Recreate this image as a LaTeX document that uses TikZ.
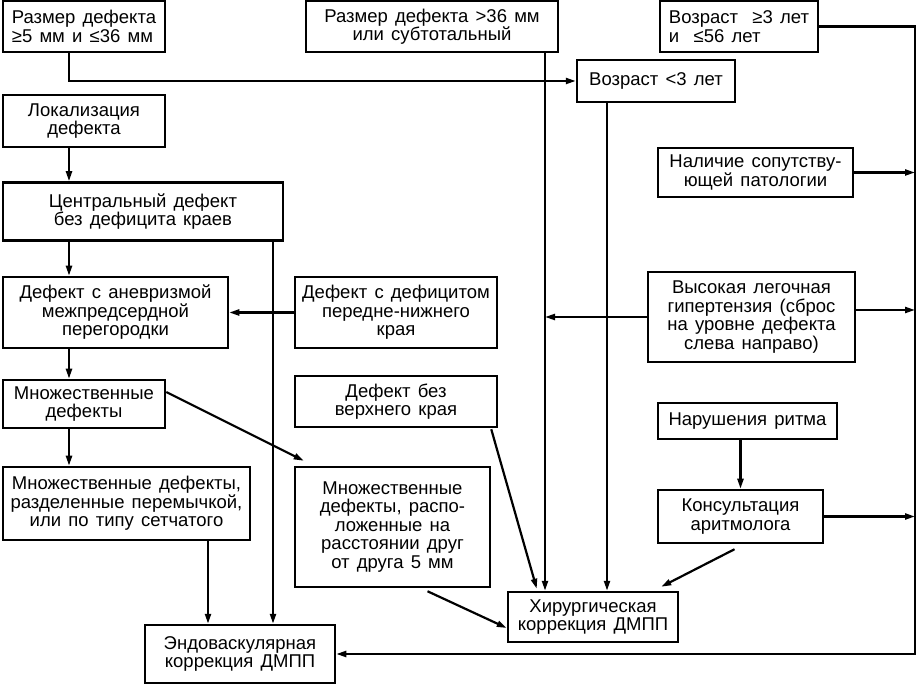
\documentclass[tikz,border=0pt]{standalone}
\usepackage{fontspec}
\setmainfont{Liberation Sans}[WordSpace=1.4]
\usetikzlibrary{arrows.meta}

\begin{document}
\begin{tikzpicture}[
  x=1pt, y=-1pt,
  font=\fontsize{18.5pt}{18.5pt}\selectfont,
  box/.style = {rectangle, draw, line width=2.5pt, align=center, inner sep=2pt},
  sz/.style 2 args = {minimum width=#1pt, minimum height=#2pt},
  arr/.style = {-{Triangle[length=10pt,width=6pt]}, line width=2.2pt}
]
\useasboundingbox (0,0) rectangle (919,684);

% Top row: size of the defect and age
\node[box, sz={162}{51}, align=left] (size1) at (84,26.5) {Размер дефекта\\≥5 мм и ≤36 мм};
\node[box, sz={252}{51}] (size2) at (432,26.5) {Размер дефекта >36 мм\\или субтотальный};
\node[box, sz={158}{51}, align=left] (age2) at (739,26.5) {Возраст~ ≥3 лет\\и~ ≤56 лет};
\node[box, sz={158}{42}] (age1) at (656,81) {Возраст <3 лет};

% Left column: localisation of the defect
\node[box, sz={162}{52}] (loc) at (84,121) {Локализация\\дефекта};
\node[box, sz={280}{58}] (central) at (143,211.5) {Центральный дефект\\без дефицита краев};
\node[box, sz={225}{71}] (anevr) at (115.5,312.5) {Дефект с аневризмой\\межпредсердной\\перегородки};
\node[box, sz={162}{48}] (mult) at (84,404) {Множественные\\дефекты};
\node[box, sz={247}{73}] (sepmult) at (126.5,503.5) {Множественные дефекты,\\разделенные перемычкой,\\или по типу сетчатого};

% Middle column
\node[box, sz={202}{71}] (deficit) at (396,312.5) {Дефект с дефицитом\\передне-нижнего\\края};
\node[box, sz={202}{51}] (noupper) at (396,401.5) {Дефект без\\верхнего края};
\node[box, sz={195}{120}] (distmult) at (392.5,527) {Множественные\\дефекты, распо-\\ложенные на\\расстоянии друг\\от друга 5 мм};

% Right column: accompanying conditions
\node[box, sz={195}{49}] (comorb) at (755.5,172.5) {Наличие сопутству-\\ющей патологии};
\node[box, sz={207}{90}] (hyper) at (751.5,317) {Высокая легочная\\гипертензия (сброс\\на уровне дефекта\\слева направо)};
\node[box, sz={179}{36}] (rhythm) at (747.5,421) {Нарушения ритма};
\node[box, sz={165}{53}] (arrhyth) at (740.5,516.5) {Консультация\\аритмолога};

% Outcomes
\node[box, sz={190}{58}] (endo) at (240,654) {Эндоваскулярная\\коррекция ДМПП};
\node[box, sz={170}{50}] (surg) at (593,617) {Хирургическая\\коррекция ДМПП};

% Helper coordinates for the vertical lines
\coordinate (lx) at (69,0);
\coordinate (cx) at (273,0);
\coordinate (sx) at (208,0);
\coordinate (s2) at (545,0);
\coordinate (a1) at (607,0);
\coordinate (rail) at (915,0);
\coordinate (hy) at ([yshift=7pt]hyper.east);

% Left column chain
\draw[arr] (size1.south -| lx) |- (age1.west);
\draw[arr] (loc.south -| lx) -- (central.north -| lx);
\draw[arr] (central.south -| lx) -- (anevr.north -| lx);
\draw[arr] (anevr.south -| lx) -- (mult.north -| lx);
\draw[arr] (mult.south -| lx) -- (sepmult.north -| lx);
\draw[arr] (central.south -| cx) -- (endo.north -| cx);
\draw[arr] (sepmult.south -| sx) -- (endo.north -| sx);
\draw[arr] (deficit.west) -- (anevr.east);
\draw[arr] ([yshift=12pt]mult.east) -- ([xshift=10pt,yshift=5pt]distmult.north west);

% Into surgical correction
\draw[arr] (size2.south -| s2) -- (surg.north -| s2);
\draw[arr] (age1.south -| a1) -- (surg.north -| a1);
\draw[arr] (hyper.west) -- (hyper.west -| s2);
\draw[arr] ([xshift=-7pt,yshift=-1pt]noupper.south east) -- ([xshift=30pt,yshift=2pt]surg.north west);
\draw[arr] ([xshift=35pt,yshift=-3pt]distmult.south) -- ([yshift=-11pt]surg.west);
\draw[arr] (rhythm.south -| arrhyth.north) -- (arrhyth.north);
\draw[arr] ([xshift=-6pt,yshift=-5pt]arrhyth.south) -- ([xshift=-18pt,yshift=4pt]surg.north east);

% Right rail back to endovascular correction
\draw[arr] (age2.east) -| (rail |- endo.east) -- (endo.east);
\draw[arr] (comorb.east) -- (comorb.east -| rail);
\draw[arr] (hy) -- (hy -| rail);
\draw[arr] (arrhyth.east) -- (arrhyth.east -| rail);

\end{tikzpicture}
\end{document}
